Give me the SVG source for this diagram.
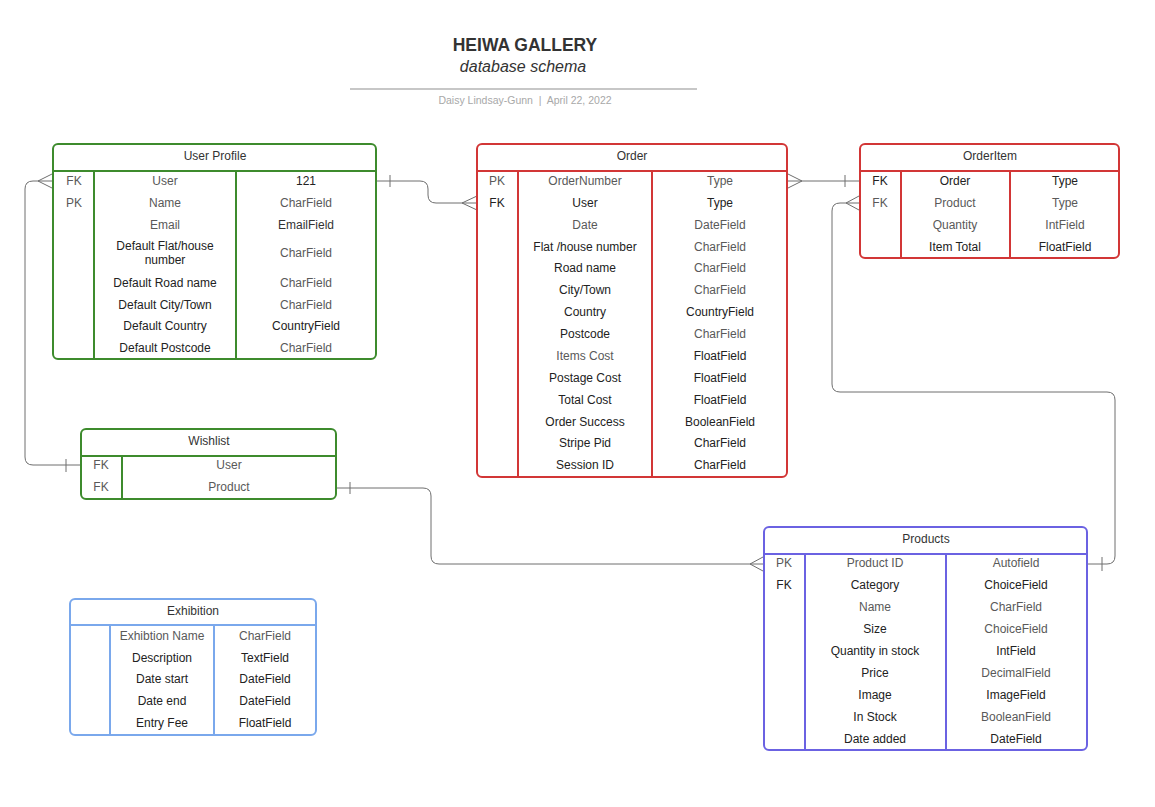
<svg xmlns="http://www.w3.org/2000/svg" width="1155" height="807" viewBox="0 0 1155 807">
<style>
text{font-family:"Liberation Sans",Arial,sans-serif;font-size:12px;text-anchor:middle;dominant-baseline:central;fill:#222}
.g{fill:#595959}
.h{fill:#333}
.box{fill:#fff;stroke-width:2}
.ln{fill:none;stroke-width:2}
.green{stroke:#3d8b2d}
.red{stroke:#d23636}
.purple{stroke:#6b62e2}
.blue{stroke:#7aa8ec}
.conn path{fill:none;stroke:#6e6e6e;stroke-width:1}
</style>
<rect width="1155" height="807" fill="#fff"/>
<g id="title">
<text x="525" y="45" style="font-size:17.5px;font-weight:bold" class="h">HEIWA GALLERY</text>
<text x="523" y="66" style="font-size:16px;font-style:italic" class="h">database schema</text>
<line x1="350" y1="89" x2="697" y2="89" stroke="#b4b4b4" stroke-width="1.5"/>
<text x="525" y="100" xml:space="preserve" style="font-size:10.5px;fill:#a8a8a8;white-space:pre">Daisy Lindsay-Gunn  |  April 22, 2022</text>
</g>
<g class="conn" id="connectors">
<path d="M377,181 H420 Q428,181 428,189 V195 Q428,203 436,203 H477"/>
<path d="M390,175 V187"/>
<path d="M462,203 L477,196 M462,203 L477,210"/>
<path d="M788,181 H859"/>
<path d="M788,174 L802,181 L788,188"/>
<path d="M845,175 V187"/>
<path d="M859,203 H840 Q832,203 832,211 V384 Q832,392 840,392 H1107 Q1115,392 1115,400 V556 Q1115,564 1107,564 H1088"/>
<path d="M846,203 L859,196 M846,203 L859,210"/>
<path d="M1102,557 V571"/>
<path d="M52,181 H33 Q25,181 25,189 V457 Q25,465 33,465 H80"/>
<path d="M38,181 L52,174 M38,181 L52,188"/>
<path d="M66,459 V472"/>
<path d="M337,488 H423 Q431,488 431,496 V556 Q431,564 439,564 H763"/>
<path d="M350,482 V494"/>
<path d="M750,564 L763,557 M750,564 L763,571"/>
</g>
<g id="user-profile">
<rect class="box green" x="53" y="144" width="323" height="215" rx="5"/>
<path class="ln green" d="M53,171 H376 M94,171 V359 M236,171 V359"/>
<text x="215" y="156" class="h">User Profile</text>
<text x="74" y="181" class="g">FK</text>
<text x="74" y="203" class="g">PK</text>
<text x="165" y="181" class="g">User</text>
<text x="165" y="203" class="g">Name</text>
<text x="165" y="225" class="g">Email</text>
<text x="165" y="246">Default Flat/house</text>
<text x="165" y="260">number</text>
<text x="165" y="283">Default Road name</text>
<text x="165" y="305">Default City/Town</text>
<text x="165" y="326">Default Country</text>
<text x="165" y="348">Default Postcode</text>
<text x="306" y="181">121</text>
<text x="306" y="203" class="g">CharField</text>
<text x="306" y="225" style="fill:#333">EmailField</text>
<text x="306" y="253" class="g">CharField</text>
<text x="306" y="283" class="g">CharField</text>
<text x="306" y="305" class="g">CharField</text>
<text x="306" y="326">CountryField</text>
<text x="306" y="348" class="g">CharField</text>
</g>
<g id="order">
<rect class="box red" x="477" y="144" width="310" height="333" rx="5"/>
<path class="ln red" d="M477,171 H787 M518,171 V477 M652,171 V477"/>
<text x="632" y="156" class="h">Order</text>
<text x="497" y="181" class="g">PK</text>
<text x="497" y="203">FK</text>
<text x="585" y="181" class="g">OrderNumber</text>
<text x="585" y="203">User</text>
<text x="585" y="225" class="g">Date</text>
<text x="585" y="247">Flat /house number</text>
<text x="585" y="268">Road name</text>
<text x="585" y="290">City/Town</text>
<text x="585" y="312">Country</text>
<text x="585" y="334">Postcode</text>
<text x="585" y="356" class="g">Items Cost</text>
<text x="585" y="378">Postage Cost</text>
<text x="585" y="400">Total Cost</text>
<text x="585" y="422">Order Success</text>
<text x="585" y="443">Stripe Pid</text>
<text x="585" y="465">Session ID</text>
<text x="720" y="181" class="g">Type</text>
<text x="720" y="203">Type</text>
<text x="720" y="225" class="g">DateField</text>
<text x="720" y="247" class="g">CharField</text>
<text x="720" y="268" class="g">CharField</text>
<text x="720" y="290" class="g">CharField</text>
<text x="720" y="312">CountryField</text>
<text x="720" y="334" class="g">CharField</text>
<text x="720" y="356">FloatField</text>
<text x="720" y="378">FloatField</text>
<text x="720" y="400">FloatField</text>
<text x="720" y="422">BooleanField</text>
<text x="720" y="443">CharField</text>
<text x="720" y="465">CharField</text>
</g>
<g id="order-item">
<rect class="box red" x="860" y="144" width="259" height="114" rx="5"/>
<path class="ln red" d="M860,171 H1119 M901,171 V258 M1010,171 V258"/>
<text x="990" y="156" class="h">OrderItem</text>
<text x="880" y="181">FK</text>
<text x="880" y="203" class="g">FK</text>
<text x="955" y="181">Order</text>
<text x="955" y="203" class="g">Product</text>
<text x="955" y="225" class="g">Quantity</text>
<text x="955" y="247">Item Total</text>
<text x="1065" y="181">Type</text>
<text x="1065" y="203" class="g">Type</text>
<text x="1065" y="225" class="g">IntField</text>
<text x="1065" y="247">FloatField</text>
</g>
<g id="wishlist">
<rect class="box green" x="81" y="429" width="255" height="70" rx="5"/>
<path class="ln green" d="M81,456 H336 M122,456 V499"/>
<text x="209" y="441" class="h">Wishlist</text>
<text x="101" y="465" class="g">FK</text>
<text x="101" y="487" class="g">FK</text>
<text x="229" y="465" class="g">User</text>
<text x="229" y="487" class="g">Product</text>
</g>
<g id="products">
<rect class="box purple" x="764" y="527" width="323" height="223" rx="5"/>
<path class="ln purple" d="M764,554 H1087 M805,554 V750 M946,554 V750"/>
<text x="926" y="539" class="h">Products</text>
<text x="784" y="563" class="g">PK</text>
<text x="784" y="585">FK</text>
<text x="875" y="563" class="g">Product ID</text>
<text x="875" y="585">Category</text>
<text x="875" y="607" class="g">Name</text>
<text x="875" y="629">Size</text>
<text x="875" y="651">Quantity in stock</text>
<text x="875" y="673">Price</text>
<text x="875" y="695">Image</text>
<text x="875" y="717">In Stock</text>
<text x="875" y="739">Date added</text>
<text x="1016" y="563" class="g">Autofield</text>
<text x="1016" y="585">ChoiceField</text>
<text x="1016" y="607" class="g">CharField</text>
<text x="1016" y="629" class="g">ChoiceField</text>
<text x="1016" y="651">IntField</text>
<text x="1016" y="673" class="g">DecimalField</text>
<text x="1016" y="695">ImageField</text>
<text x="1016" y="717" class="g">BooleanField</text>
<text x="1016" y="739">DateField</text>
</g>
<g id="exhibition">
<rect class="box blue" x="70" y="599" width="246" height="136" rx="5"/>
<path class="ln blue" d="M70,625 H316 M110,625 V735 M214,625 V735"/>
<text x="193" y="611" class="h">Exhibition</text>
<text x="162" y="636" class="g">Exhibtion Name</text>
<text x="162" y="658">Description</text>
<text x="162" y="679">Date start</text>
<text x="162" y="701">Date end</text>
<text x="162" y="723">Entry Fee</text>
<text x="265" y="636" class="g">CharField</text>
<text x="265" y="658">TextField</text>
<text x="265" y="679">DateField</text>
<text x="265" y="701">DateField</text>
<text x="265" y="723">FloatField</text>
</g>
</svg>
